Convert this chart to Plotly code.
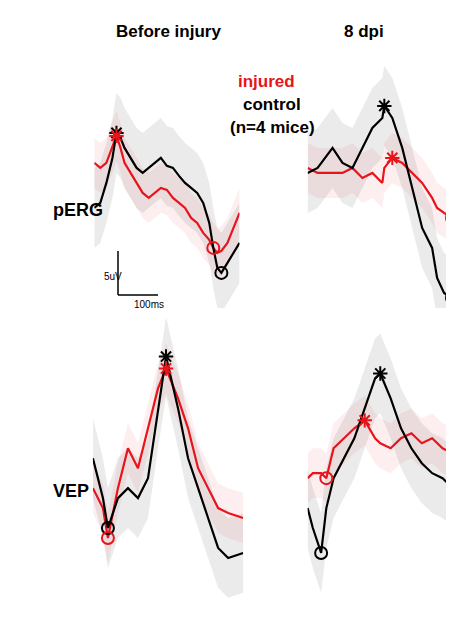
import plotly.graph_objects as go

# ---- data (trace readings, time in ms-like units, amplitude units) ----
t_tl = [0,6,12,18,22,26,30,36,42,48,54,60,66,72,78,84,90,96,102,108,114,118,122,126,132,138,144]
perg_pre_ctrl = [200,195,175,150,125,130,140,150,160,165,160,155,150,158,160,168,175,180,185,195,215,240,260,265,255,245,235]
perg_pre_inj  = [155,160,155,140,128,140,155,165,175,185,190,185,180,182,190,195,200,210,215,225,232,240,245,243,235,220,205]

t_tr = [0,10,25,35,45,55,65,75,77,85,95,105,115,125,130,137,145,155]
perg_8_ctrl = [165,160,140,155,160,140,120,110,98,110,140,180,220,240,270,285,290,270]
perg_8_inj  = [160,165,165,165,160,170,165,175,160,150,155,165,175,190,200,205,210,215]

t_bl = [0,10,15,25,35,45,55,65,73,85,95,105,115,125,135,150]
vep_pre_ctrl = [450,490,520,490,480,490,470,400,348,400,450,480,510,540,550,545]
vep_pre_inj  = [480,500,530,480,440,460,420,380,360,390,420,460,480,500,505,510]

t_br = [0,5,13,18,25,35,45,55,65,70,80,90,100,110,120,130,140]
vep_8_ctrl = [500,520,545,500,470,450,430,400,370,365,390,420,440,455,465,470,480]
vep_8_inj  = [470,465,465,470,440,430,420,412,430,435,440,430,425,435,430,440,445]

band_ctrl = 40
band_inj = 25

RED = "#e8141c"
BLK = "#000000"

panels = [
    (t_tl, perg_pre_ctrl, perg_pre_inj, [0.19, 0.51], [0.527, 0.937], [300, 40], 4, 4, 23, 21),
    (t_tr, perg_8_ctrl, perg_8_inj, [0.66, 1.0], [0.527, 0.937], [300, 40], 8, 9, 16, 16),
    (t_bl, vep_pre_ctrl, vep_pre_inj, [0.187, 0.518], [0.054, 0.51], [600, 310], 8, 8, 2, 2),
    (t_br, vep_8_ctrl, vep_8_inj, [0.66, 0.98], [0.054, 0.51], [600, 310], 9, 7, 2, 3),
]

fig = go.Figure()
layout = {}
for i, (t, c, r, xd, yd, yr, sc, si, cc, ci) in enumerate(panels):
    n = "" if i == 0 else str(i + 1)
    xa, ya = "x" + n, "y" + n
    for vals, col, fill, w in [(c, BLK, "rgba(120,120,120,0.15)", band_ctrl),
                               (r, RED, "rgba(232,20,28,0.07)", band_inj)]:
        fig.add_trace(go.Scatter(x=t + t[::-1], y=[v - w for v in vals] + [v + w for v in vals[::-1]],
                                 fill="toself", fillcolor=fill, line=dict(width=0),
                                 hoverinfo="skip", showlegend=False, xaxis=xa, yaxis=ya))
    for vals, col in [(r, RED), (c, BLK)]:
        fig.add_trace(go.Scatter(x=t, y=vals, mode="lines", line=dict(color=col, width=2.2),
                                 showlegend=False, xaxis=xa, yaxis=ya))
    for vals, col, s, ci_ in [(c, BLK, sc, cc), (r, RED, si, ci)]:
        fig.add_trace(go.Scatter(x=[t[s]], y=[vals[s]], mode="markers",
                                 marker=dict(symbol="asterisk-open", size=12, color=col, line=dict(width=2, color=col)),
                                 showlegend=False, xaxis=xa, yaxis=ya))
        fig.add_trace(go.Scatter(x=[t[ci_]], y=[vals[ci_]], mode="markers",
                                 marker=dict(symbol="circle-open", size=12, color=col, line=dict(width=2, color=col)),
                                 showlegend=False, xaxis=xa, yaxis=ya))
    layout["xaxis" + n] = dict(domain=xd, range=[t[0], t[-1]], visible=False, anchor=ya)
    layout["yaxis" + n] = dict(domain=yd, range=yr, visible=False, anchor=xa)

fig.update_layout(**layout)

F = "Liberation Sans"
ann = [
    ("<b>Before injury</b>", 160, 12, BLK, 17),
    ("<b>8 dpi</b>", 378, 12, BLK, 17),
    ("<b>injured</b>", 258, 62, RED, 17),
    ("<b>control</b>", 264, 85, BLK, 17),
    ("<b>(n=4 mice)</b>", 264, 108, BLK, 17),
    ("<b>pERG</b>", 43, 190, BLK, 18),
    ("<b>VEP</b>", 43, 495, BLK, 18),
    ("5uV", 94, 268, BLK, 10),
    ("100ms", 124, 296, BLK, 10),
]
for txt, x, y, col, s in ann:
    fig.add_annotation(text=txt, x=x / 454, y=1 - y / 634, xref="paper", yref="paper",
                       showarrow=False, font=dict(family=F, size=s, color=col))
fig.add_shape(type="line", xref="paper", yref="paper", x0=110/454, x1=110/454, y0=1-243/634, y1=1-287/634,
              line=dict(color="black", width=1.5))
fig.add_shape(type="line", xref="paper", yref="paper", x0=110/454, x1=150/454, y0=1-287/634, y1=1-287/634,
              line=dict(color="black", width=1.5))

fig.update_layout(width=454, height=634, margin=dict(l=0, r=0, t=0, b=0),
                  paper_bgcolor="white", plot_bgcolor="white", font=dict(family=F))
fig.write_html("out.html")
